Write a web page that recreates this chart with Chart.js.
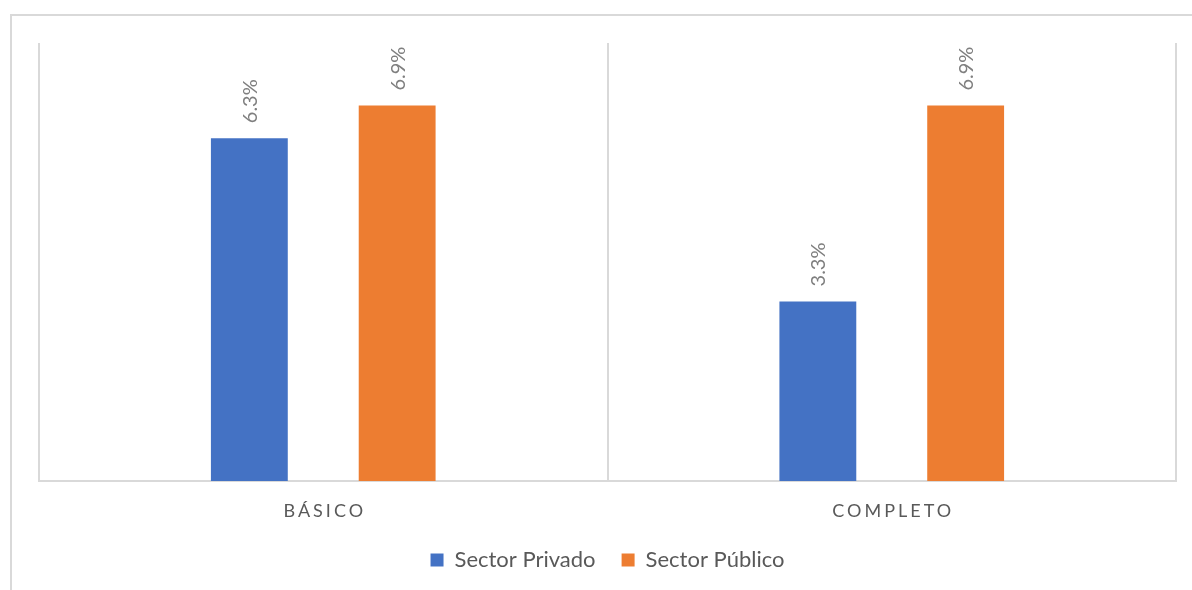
<!DOCTYPE html>
<html lang="es">
<head>
<meta charset="utf-8">
<title>Sector Privado vs Sector Público</title>
<script src="https://cdn.jsdelivr.net/npm/chart.js@4.4.1/dist/chart.umd.min.js"></script>
<style>
  html, body { margin: 0; padding: 0; background: #fff; }
  .chart-box { position: relative; width: 1192px; height: 590px; }
</style>
</head>
<body>
<div class="chart-box"><canvas id="nivelChart"></canvas></div>
<script>
// Categories and series
const categories = ["BÁSICO", "COMPLETO"];
const seriesNames = ["Sector Privado", "Sector Público"];
const privado = [6.3, 3.3];
const publico = [6.9, 6.9];
const seriesColors = ["#4472C4", "#ED7D31"];

const GRID = "#d9d9d9";
const FONT = "Lato, Carlito, 'Open Sans', sans-serif";

// Light frame around the whole chart
const framePlugin = {
  id: "frame",
  beforeDraw(chart) {
    const ctx = chart.ctx;
    ctx.save();
    ctx.strokeStyle = GRID;
    ctx.lineWidth = 2;
    ctx.strokeRect(11, 15, 1400, 900);
    ctx.restore();
  }
};

// Rotated value labels above each bar
const valueLabels = {
  id: "valueLabels",
  afterDatasetsDraw(chart) {
    const ctx = chart.ctx;
    ctx.save();
    ctx.fillStyle = "#7f7f7f";
    ctx.font = "20px " + FONT;
    ctx.textAlign = "left";
    ctx.textBaseline = "middle";
    chart.data.datasets.forEach((ds, di) => {
      chart.getDatasetMeta(di).data.forEach((bar, i) => {
        ctx.save();
        ctx.translate(bar.x + 1, bar.y - 15);
        ctx.rotate(-Math.PI / 2);
        ctx.fillText(ds.data[i].toFixed(1) + "%", 0, 0);
        ctx.restore();
      });
    });
    ctx.restore();
  }
};

// Spaced-out category names under the axis
const categoryLabels = {
  id: "categoryLabels",
  afterDraw(chart) {
    const ctx = chart.ctx;
    const xScale = chart.scales.x;
    const spacing = 3;
    ctx.save();
    ctx.fillStyle = "#595959";
    ctx.font = "18px " + FONT;
    ctx.letterSpacing = spacing + "px";
    ctx.textAlign = "left";
    ctx.textBaseline = "alphabetic";
    categories.forEach((c, i) => {
      const w = ctx.measureText(c).width - spacing;
      ctx.fillText(c, xScale.getPixelForValue(i) - w / 2, xScale.top + 36);
    });
    ctx.restore();
  }
};

new Chart(document.getElementById("nivelChart"), {
  type: "bar",
  data: {
    labels: categories,
    datasets: [
      {
        label: seriesNames[0],
        data: privado,
        backgroundColor: seriesColors[0],
        categoryPercentage: 0.52,
        barPercentage: 0.52
      },
      {
        label: seriesNames[1],
        data: publico,
        backgroundColor: seriesColors[1],
        categoryPercentage: 0.52,
        barPercentage: 0.52
      }
    ]
  },
  options: {
    responsive: true,
    maintainAspectRatio: false,
    animation: false,
    devicePixelRatio: 1,
    layout: { padding: { left: 39, right: 16, top: 43, bottom: 9 } },
    scales: {
      x: {
        grid: { color: GRID, lineWidth: 2, drawTicks: false, offset: true },
        border: { color: GRID, width: 2 },
        ticks: { display: false },
        // room for the category names drawn by the plugin
        afterFit(scale) { scale.height = 42; }
      },
      y: { display: false, min: 0, max: 8.05 }
    },
    plugins: {
      legend: {
        position: "bottom",
        labels: {
          boxWidth: 13,
          boxHeight: 13,
          padding: 26,
          color: "#595959",
          font: { family: FONT, size: 22 }
        }
      },
      tooltip: { enabled: false }
    }
  },
  plugins: [framePlugin, valueLabels, categoryLabels]
});
</script>
</body>
</html>
